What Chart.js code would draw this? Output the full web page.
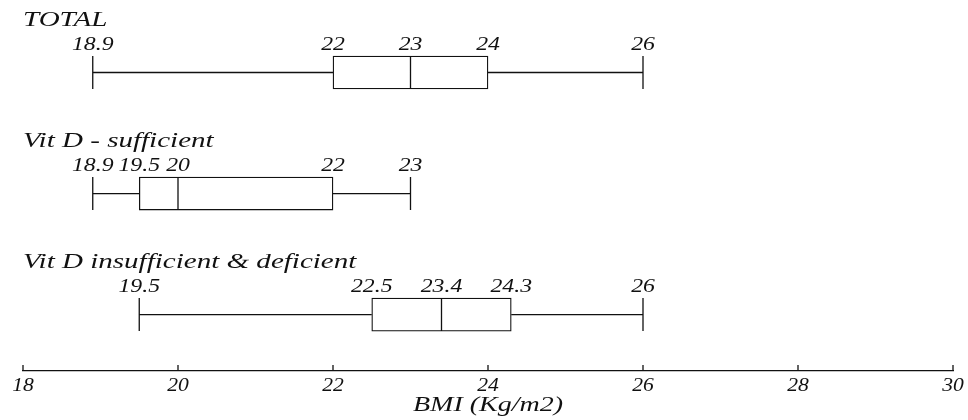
<!DOCTYPE html>
<html>
<head>
<meta charset="utf-8">
<script src="https://cdn.jsdelivr.net/npm/chart.js@4.4.0/dist/chart.umd.min.js"></script>
<style>
  html, body { margin: 0; padding: 0; background: #fff; }
  #wrap { width: 968px; height: 420px; }
</style>
</head>
<body>
<div id="wrap"><canvas id="myChart"></canvas></div>
<script>
// values
var groups = ['TOTAL', 'Vit D - sufficient', 'Vit D insufficient & deficient'];
var groupPos = [1, 2, 3];
var mins = [18.9, 18.9, 19.5];
var q1s = [22, 19.5, 22.5];
var medians = [23, 20, 23.4];
var q3s = [24, 22, 24.3];
var maxs = [26, 23, 26];
var xTicks = [18, 20, 22, 24, 26, 28, 30];
var xTitle = 'BMI (Kg/m2)';

var serif = "'Liberation Serif', 'DejaVu Serif', serif";
var ink = '#111';

var boxes = [];
for (var i = 0; i < groups.length; i++) {
    boxes.push({ x: [q1s[i], q3s[i]], y: groupPos[i] });
}

// the lettering in the original is wide, so text gets a horizontal stretch
function wideText(ctx, text, x, y, align, size, sx) {
    ctx.save();
    ctx.font = 'italic ' + size + 'px ' + serif;
    ctx.textBaseline = 'alphabetic';
    ctx.textAlign = align;
    ctx.translate(x, y);
    ctx.scale(sx, 1);
    ctx.fillText(text, 0, 0);
    ctx.restore();
}

// whiskers, medians, value labels, group titles and axis lettering
var boxPlotExtras = {
    id: 'boxPlotExtras',
    afterDatasetsDraw: function (chart) {
        var ctx = chart.ctx;
        var x = chart.scales.x;
        var y = chart.scales.y;
        var meta = chart.getDatasetMeta(0);
        ctx.save();
        ctx.strokeStyle = ink;
        ctx.lineWidth = 1.3;
        ctx.fillStyle = ink;
        for (var i = 0; i < groups.length; i++) {
            var cy = y.getPixelForValue(groupPos[i]);
            var half = meta.data[i].height / 2;
            var top = cy - half, bot = cy + half;
            var pMin = x.getPixelForValue(mins[i]);
            var pQ1 = x.getPixelForValue(q1s[i]);
            var pMed = x.getPixelForValue(medians[i]);
            var pQ3 = x.getPixelForValue(q3s[i]);
            var pMax = x.getPixelForValue(maxs[i]);

            ctx.beginPath();
            ctx.moveTo(pMin, cy); ctx.lineTo(pQ1, cy);
            ctx.moveTo(pQ3, cy); ctx.lineTo(pMax, cy);
            ctx.moveTo(pMin, top); ctx.lineTo(pMin, bot);
            ctx.moveTo(pMax, top); ctx.lineTo(pMax, bot);
            ctx.moveTo(pMed, top); ctx.lineTo(pMed, bot);
            ctx.stroke();

            var vals = [mins[i], q1s[i], medians[i], q3s[i], maxs[i]];
            for (var k = 0; k < vals.length; k++) {
                wideText(ctx, String(vals[k]), x.getPixelForValue(vals[k]), top - 6, 'center', 19, 1.25);
            }
            wideText(ctx, groups[i], chart.chartArea.left, top - 30, 'left', 22, 1.32);
        }
        // tick marks standing on the axis line, with their labels
        var base = chart.chartArea.bottom;
        ctx.beginPath();
        for (var t = 0; t < x.ticks.length; t++) {
            var px = x.getPixelForTick(t);
            ctx.moveTo(px, base); ctx.lineTo(px, base - 6);
            wideText(ctx, String(x.ticks[t].value), px, base + 20, 'center', 18, 1.2);
        }
        ctx.stroke();
        wideText(ctx, xTitle, (chart.chartArea.left + chart.chartArea.right) / 2, base + 40, 'center', 20, 1.4);
        ctx.restore();
    }
};

var ctx = document.getElementById('myChart');
var chart = new Chart(ctx, {
    type: 'bar',
    data: {
        datasets: [{
            data: boxes,
            backgroundColor: '#fff',
            borderColor: ink,
            borderWidth: 1.3,
            borderSkipped: false,
            barThickness: 33
        }]
    },
    options: {
        indexAxis: 'y',
        responsive: true,
        maintainAspectRatio: false,
        animation: false,
        layout: { padding: { left: 23, right: 15, top: 12, bottom: 0 } },
        plugins: {
            legend: { display: false },
            tooltip: { enabled: false }
        },
        scales: {
            y: {
                type: 'linear',
                reverse: true,
                offset: false,
                min: 0.5,
                max: 3.466,
                display: false
            },
            x: {
                type: 'linear',
                position: 'bottom',
                min: 18,
                max: 30,
                afterBuildTicks: function (scale) {
                    scale.ticks = xTicks.map(function (v) { return { value: v }; });
                },
                afterFit: function (scale) { scale.height = 49; },
                grid: { display: true, drawOnChartArea: false, drawTicks: false },
                border: { display: true, color: ink, width: 1.3 },
                ticks: { display: false }
            }
        }
    },
    plugins: [boxPlotExtras]
});
</script>
</body>
</html>
